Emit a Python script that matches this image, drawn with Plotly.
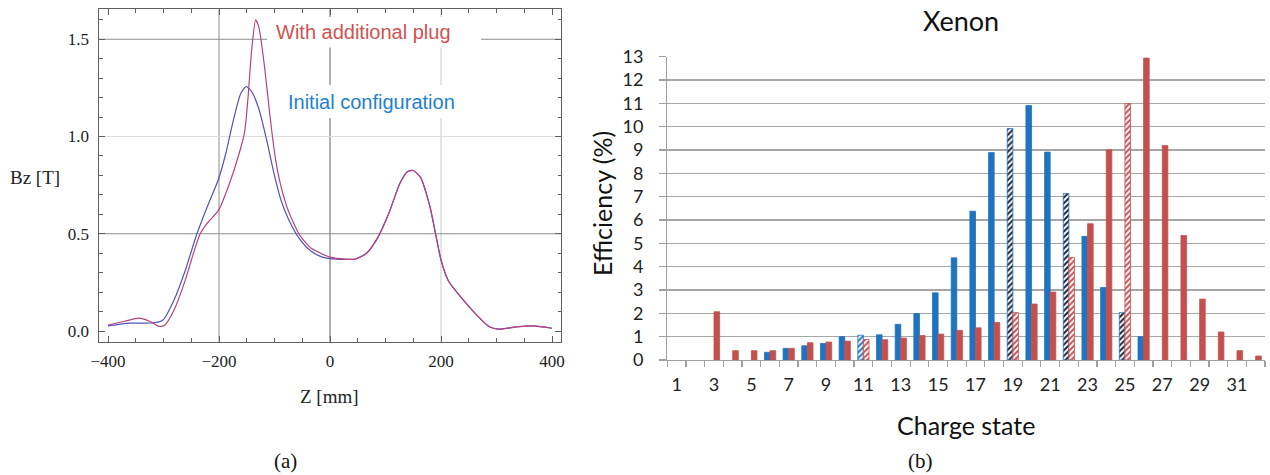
import plotly.graph_objects as go

# ---------------- Panel (a): magnetic field profile ----------------
Z_PLUG = [-400, -370, -345, -325, -308, -298, -281, -261, -246, -234, -221, -201, -181, -164,
          -154, -148, -141, -134, -128, -118, -108, -98, -88, -74, -54, -34, -14, 0, 26, 46,
          66, 86, 106, 126, 140, 150, 163, 180, 200, 213, 240, 267, 287, 303, 340, 367, 400]
B_PLUG = [0.031, 0.050, 0.066, 0.050, 0.024, 0.030, 0.108, 0.26, 0.40, 0.50, 0.555, 0.62, 0.76, 0.91,
          1.02, 1.19, 1.45, 1.60, 1.56, 1.36, 1.10, 0.88, 0.74, 0.61, 0.49, 0.425, 0.396, 0.38, 0.37, 0.37,
          0.40, 0.48, 0.605, 0.76, 0.82, 0.825, 0.79, 0.64, 0.365, 0.26, 0.16, 0.074, 0.022, 0.010, 0.022, 0.026, 0.014]

Z_INIT = [-400, -361, -330, -315, -301, -281, -261, -241, -221, -201, -188, -174, -161, -151,
          -141, -128, -114, -101, -88, -74, -54, -34, -14, 0, 26, 46,
          66, 86, 106, 126, 140, 150, 163, 180, 200, 213, 240, 267, 287, 303, 340, 367, 400]
B_INIT = [0.026, 0.040, 0.041, 0.043, 0.057, 0.16, 0.31, 0.49, 0.64, 0.78, 0.91, 1.086, 1.22, 1.257,
          1.23, 1.14, 0.98, 0.81, 0.67, 0.57, 0.47, 0.41, 0.38, 0.372, 0.368, 0.37,
          0.40, 0.48, 0.605, 0.76, 0.82, 0.825, 0.79, 0.64, 0.365, 0.26, 0.16, 0.074, 0.022, 0.010, 0.022, 0.026, 0.014]

A_XTICKS = [-400, -200, 0, 200, 400]
A_YTICKS = [0.0, 0.5, 1.0, 1.5]
A_YTICKTEXT = ["0.0", "0.5", "1.0", "1.5"]
A_GRID_X = [-200, 0, 200]
A_GRID_X_COLORS = ["#a0a0a0", "#7a7a7a", "#d4d4d4"]
A_GRID_Y = [0.5, 1.0, 1.5]
A_GRID_Y_COLORS = ["#8c8c8c", "#dedede", "#8c8c8c"]

# ---------------- Panel (b): Xenon efficiency ----------------
CHARGE = list(range(1, 33))
EFF_INITIAL = [None, None, None, None, None, 0.33, 0.50, 0.61, 0.71, 1.00, 1.06, 1.08, 1.53, 1.99,
               2.88, 4.38, 6.38, 8.89, 9.92, 10.91, 8.91, 7.14, 5.30, 3.11, 2.03, 1.00,
               None, None, None, None, None, None]
EFF_PLUG = [None, None, 2.07, 0.40, 0.40, 0.40, 0.50, 0.74, 0.77, 0.81, 0.88, 0.87, 0.94, 1.05,
            1.11, 1.27, 1.38, 1.61, 2.03, 2.40, 2.91, 4.40, 5.84, 9.01, 10.99, 12.94,
            9.19, 5.34, 2.61, 1.20, 0.40, 0.17]
HATCHED_BLUE_LIGHT = [11]
HATCHED_BLUE_DARK = [19, 22, 25]
HATCHED_RED = [11, 19, 22, 25]
B_XTICKS = list(range(1, 32, 2))
B_YTICKS = list(range(0, 14))

BLUE = "#1f73bf"
RED = "#c4504e"

fig = go.Figure()

fig.add_trace(go.Scatter(x=Z_INIT, y=B_INIT, mode="lines", line=dict(color="#5252bd", width=1.2, shape="spline", smoothing=0.6),
                         xaxis="x", yaxis="y", showlegend=False, hoverinfo="skip"))
fig.add_trace(go.Scatter(x=Z_PLUG, y=B_PLUG, mode="lines", line=dict(color="#b8417e", width=1.2, shape="spline", smoothing=0.6),
                         xaxis="x", yaxis="y", showlegend=False, hoverinfo="skip"))

blue_shape = ["/" if c in HATCHED_BLUE_LIGHT + HATCHED_BLUE_DARK else "" for c in CHARGE]
blue_fg = ["#1c2236" if c in HATCHED_BLUE_DARK else BLUE for c in CHARGE]
blue_bg = ["white" if c in HATCHED_BLUE_LIGHT + HATCHED_BLUE_DARK else BLUE for c in CHARGE]
red_shape = ["/" if c in HATCHED_RED else "" for c in CHARGE]
red_bg = ["white" if c in HATCHED_RED else RED for c in CHARGE]

fig.add_trace(go.Bar(x=CHARGE, y=EFF_INITIAL, xaxis="x2", yaxis="y2", showlegend=False,
                     marker=dict(color=BLUE, line=dict(color=BLUE, width=0.8),
                                 pattern=dict(shape=blue_shape, fgcolor=blue_fg, bgcolor=blue_bg,
                                              fillmode="replace", size=4, solidity=0.5))))
fig.add_trace(go.Bar(x=CHARGE, y=EFF_PLUG, xaxis="x2", yaxis="y2", showlegend=False,
                     marker=dict(color=RED, line=dict(color=RED, width=0.8),
                                 pattern=dict(shape=red_shape, fgcolor=RED, bgcolor=red_bg,
                                              fillmode="replace", size=4, solidity=0.5))))

shapes = []
for gx, gc in zip(A_GRID_X, A_GRID_X_COLORS):
    shapes.append(dict(type="line", xref="x", yref="y domain", x0=gx, x1=gx, y0=0, y1=1,
                       line=dict(color=gc, width=1.2), layer="below"))
for gy, gc in zip(A_GRID_Y, A_GRID_Y_COLORS):
    shapes.append(dict(type="line", xref="x domain", yref="y", x0=0, x1=1, y0=gy, y1=gy,
                       line=dict(color=gc, width=1.2), layer="below"))
# white label backgrounds
shapes.append(dict(type="rect", xref="paper", yref="paper", x0=267/1270, x1=481/1270,
                   y0=1-47.5/475, y1=1-17/475, fillcolor="white", line=dict(width=0), layer="below"))
shapes.append(dict(type="rect", xref="paper", yref="paper", x0=280/1270, x1=462/1270,
                   y0=1-118/475, y1=1-85/475, fillcolor="white", line=dict(width=0), layer="below"))

serif = "Liberation Serif"
sans = "Lato"


def ann(text, px, py, family, size, color, angle=0):
    return dict(text=text, x=px/1270, y=1-py/475, xref="paper", yref="paper", showarrow=False,
                xanchor="center", yanchor="middle", textangle=angle,
                font=dict(family=family, size=size, color=color))


annotations = [
    ann("With additional plug", 363, 32, "Liberation Sans", 20, "#cf5252"),
    ann("Initial configuration", 371, 102, "Liberation Sans", 20, "#2280cf"),
    ann("Bz [T]", 35, 177, serif, 19, "#222"),
    ann("Z [mm]", 329, 396, serif, 19, "#222"),
    ann("(a)", 285, 461, serif, 21, "#111"),
    ann("(b)", 920, 461, serif, 21, "#111"),
    ann("Xenon", 961, 20, sans, 27, "#111"),
    ann("Efficiency (%)", 602, 204, sans, 25, "#111", -90),
    ann("Charge state", 966, 425, sans, 25, "#111"),
]

fig.update_layout(
    template="none",
    width=1270, height=475, margin=dict(l=0, r=0, t=0, b=0, pad=0), autosize=False,
    paper_bgcolor="white", plot_bgcolor="white",
    barmode="group", bargap=0.40, bargroupgap=0.0,
    shapes=shapes, annotations=annotations,
    xaxis=dict(domain=[99.3/1270, 561/1270], range=[-415.7, 416.2], tickvals=A_XTICKS, automargin=False,
               showgrid=False, zeroline=False, showline=True, linecolor="#606060", linewidth=1,
               mirror="allticks", ticks="inside", ticklen=6, tickcolor="#606060", anchor="y",
               minor=dict(dtick=50, tick0=0, ticks="inside", ticklen=3.5, tickcolor="#606060", showgrid=False),
               tickfont=dict(family=serif, size=17, color="#222"), ticklabelstandoff=4),
    yaxis=dict(domain=[1-341.7/475, 1-9.3/475], range=[-0.055, 1.654], tickvals=A_YTICKS, automargin=False,
               ticktext=A_YTICKTEXT, anchor="x",
               showgrid=False, zeroline=False, showline=True, linecolor="#606060", linewidth=1,
               mirror="allticks", ticks="inside", ticklen=6, tickcolor="#606060",
               minor=dict(dtick=0.1, tick0=0, ticks="inside", ticklen=3.5, tickcolor="#606060", showgrid=False),
               tickfont=dict(family=serif, size=17, color="#222"), ticklabelstandoff=6),
    xaxis2=dict(domain=[667.3/1270, 1265/1270], range=[0.5, 32.5], tickvals=B_XTICKS, automargin=False,
                showgrid=False, zeroline=False, showline=True, linecolor="#a0a0a0", linewidth=1.3,
                ticks="", anchor="y2",
                minor=dict(dtick=1, tick0=0.5, ticks="outside", ticklen=6, tickcolor="#a0a0a0", tickwidth=1.2, showgrid=False),
                tickfont=dict(family=sans, size=18, color="#222"), ticklabelstandoff=8),
    yaxis2=dict(domain=[1-360/475, 1-56.7/475], range=[0, 13], tickvals=B_YTICKS, automargin=False,
                showgrid=True, gridcolor="#a6a6a6", gridwidth=1.3, zeroline=False,
                showline=True, linecolor="#a0a0a0", linewidth=1.3, anchor="x2",
                ticks="outside", ticklen=7, tickcolor="#a0a0a0", tickwidth=1.2,
                tickfont=dict(family=sans, size=18, color="#222"), ticklabelstandoff=12),
)

fig.write_html("out.html", config={"displayModeBar": False, "staticPlot": True},
               post_script="document.body.style.margin='0';document.body.style.overflow='hidden';")
